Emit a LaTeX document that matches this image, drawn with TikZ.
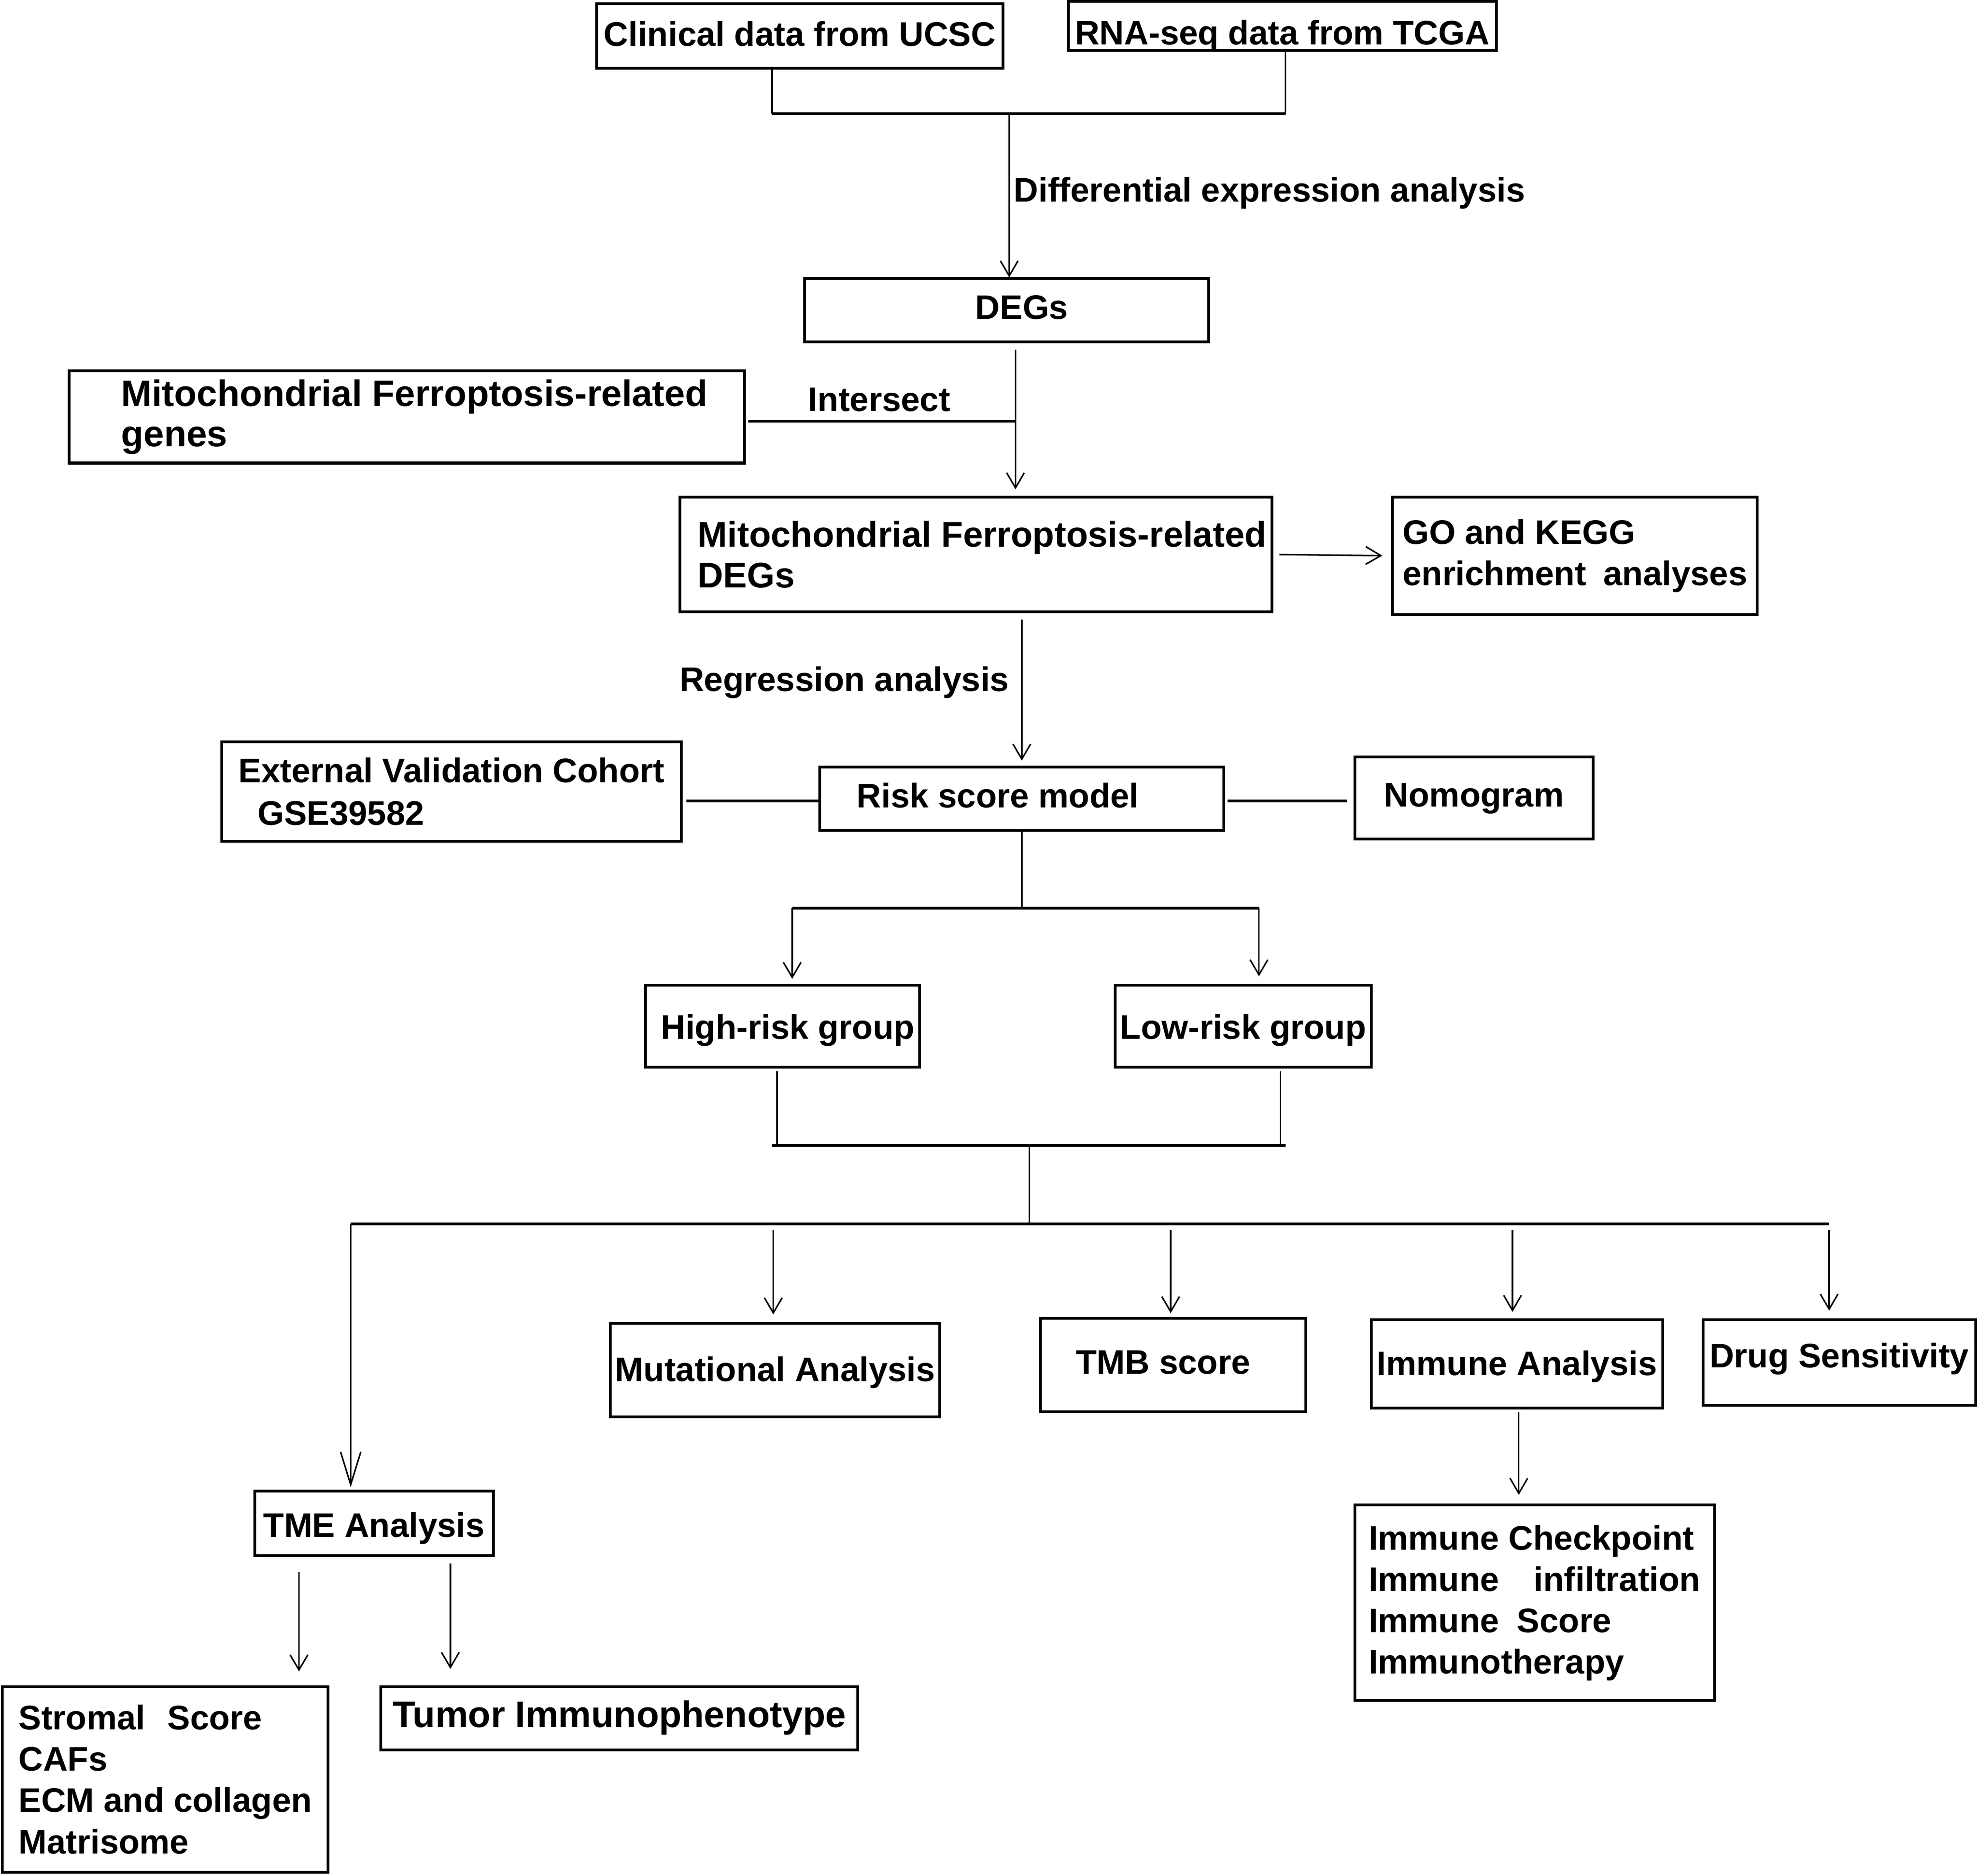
\documentclass[tikz,border=0pt]{standalone}
\usepackage{fontspec}
\setmainfont{Liberation Sans}
\usetikzlibrary{arrows.meta}
\begin{document}
\begin{tikzpicture}[x=0.01cm,y=-0.01cm,
  font=\fontsize{7.68pt}{9.3pt}\selectfont\bfseries,
  bx/.style={draw, line width=0.62pt, inner sep=0pt, text height=0.195cm, text depth=0.055cm},
  mbx/.style={draw, line width=0.62pt, inner sep=0pt, align=left},
  cn/.style={line width=0.34pt},
  tk/.style={line width=0.6pt},
  arr/.style={cn, -{Straight Barb[length=0.12cm,width=0.14cm]}},
  bigarr/.style={cn, -{Straight Barb[length=0.26cm,width=0.16cm]}},
  lbl/.style={inner sep=0pt, anchor=west, text height=0.195cm, text depth=0.055cm}]
\path[use as bounding box, fill=white] (0,0) rectangle (1568,1487);

% boxes
\node[bx, minimum width=3.22cm, minimum height=0.51cm] (clin) at (634,28.5) {\raisebox{-0.01cm}[\height][\depth]{Clinical data from UCSC}};
\node[bx, minimum width=3.39cm, minimum height=0.39cm] (rna) at (1016.5,20.5) {\raisebox{-0.08cm}[\height][\depth]{RNA-seq data from TCGA}};
\node[bx, minimum width=3.20cm, minimum height=0.50cm] (degs) at (798,246) {\kern0.24cm DEGs};
\node[mbx, minimum width=5.35cm, minimum height=0.73cm, font=\fontsize{8.29pt}{9.1pt}\selectfont\bfseries] (mfg) at (322.5,330.5) {\kern0.12cm Mitochondrial Ferroptosis-related\\\kern0.12cm genes};
\node[mbx, minimum width=4.69cm, minimum height=0.91cm, font=\fontsize{8.04pt}{9.2pt}\selectfont\bfseries] (mfd) at (773.5,439.5) {\kern0.1cm Mitochondrial Ferroptosis-related\\\kern0.1cm DEGs};
\node[mbx, minimum width=2.89cm, minimum height=0.93cm] (go) at (1248.5,440.5) {GO and KEGG\\enrichment\hspace{0.06cm} analyses};
\node[bx, minimum width=3.20cm, minimum height=0.50cm] (risk) at (810,633) {Risk score model\kern0.38cm};
\node[mbx, minimum width=3.64cm, minimum height=0.79cm] (ext) at (358,627.5) {\raisebox{-0.02cm}{External Validation Cohort}\\[0.03cm]\hspace{0.15cm}GSE39582};
\node[bx, minimum width=1.89cm, minimum height=0.65cm] (nomo) at (1168.5,632.5) {Nomogram};
\node[bx, minimum width=2.17cm, minimum height=0.65cm] (high) at (620.5,813.5) {\kern0.08cm\raisebox{-0.03cm}[\height][\depth]{High-risk group}};
\node[bx, minimum width=2.03cm, minimum height=0.65cm] (low) at (985.5,813.5) {\raisebox{-0.03cm}[\height][\depth]{Low-risk group}};
\node[bx, minimum width=2.61cm, minimum height=0.74cm] (mut) at (614.5,1086) {\raisebox{-0.02cm}[\height][\depth]{Mutational Analysis}};
\node[bx, minimum width=2.10cm, minimum height=0.74cm] (tmb) at (930,1082) {TMB score\kern0.16cm};
\node[bx, minimum width=2.31cm, minimum height=0.70cm] (imm) at (1202.5,1081) {\raisebox{-0.02cm}[\height][\depth]{Immune Analysis}};
\node[bx, minimum width=2.16cm, minimum height=0.68cm] (drug) at (1458,1080) {\raisebox{0.03cm}[\height][\depth]{Drug Sensitivity}};
\node[bx, minimum width=1.89cm, minimum height=0.51cm] (tme) at (296.5,1207.5) {\raisebox{-0.04cm}[\height][\depth]{TME Analysis}};
\node[mbx, minimum width=2.58cm, minimum height=1.47cm] (strom) at (131,1410.5) {Stromal\hspace{0.1cm} Score\\CAFs\\ECM and collagen\\Matrisome};
\node[bx, minimum width=3.78cm, minimum height=0.50cm, font=\fontsize{8.33pt}{9.3pt}\selectfont\bfseries] (tumor) at (491,1362) {Tumor Immunophenotype};
\node[mbx, minimum width=2.85cm, minimum height=1.55cm] (immc) at (1216.5,1270.5) {Immune Checkpoint\\Immune\hspace{0.2cm} infiltration\\Immune\hspace{0.065cm} Score\\Immunotherapy};

% labels
\node[lbl] (dea) at (803,153) {Differential expression analysis};
\node[lbl] (isect) at (640,319) {Intersect};
\node[lbl] (reg) at (538,541) {Regression analysis};

% junction coordinates
\coordinate (b1l) at (612,90);
\coordinate (b1r) at (1019,90);
\coordinate (b1m) at (800,90);
\coordinate (ix) at (805,334);
\coordinate (g1) at (628,720);
\coordinate (g2) at (998,720);
\coordinate (b2l) at (616,908);
\coordinate (b2r) at (1015,908);
\coordinate (b2m) at (816,908);
\coordinate (b3m) at (816,970);
\coordinate (b3l) at (278,970);
\coordinate (b3r) at (1450,970);
\coordinate (c1) at (613,970);
\coordinate (c2) at (928,970);
\coordinate (c3) at (1199,970);
\coordinate (t1) at (237,0);
\coordinate (t2) at (357,0);
\coordinate (ia) at (1204,0);
\coordinate (ry) at (0,635);

% connectors
\draw[cn] (clin.south -| b1l) -- (b1l);
\draw[cn] (rna.south -| b1r) -- (b1r);
\draw[tk] (b1l) -- (b1r);
\draw[arr] (b1m) -- (degs.north -| b1m);
\draw[arr, shorten <=0.05cm, shorten >=0.05cm] (degs.south -| ix) -- (mfd.north -| ix);
\draw[tk, shorten <=0.02cm] (mfg.east |- ix) -- (ix);
\draw[arr, shorten <=0.05cm, shorten >=0.07cm] (mfd.east) -- (go.west);
\draw[arr, shorten <=0.05cm, shorten >=0.04cm] (mfd.south -| risk.north) -- (risk.north);
\draw[tk, shorten <=0.03cm] (ext.east |- ry) -- (risk.west |- ry);
\draw[tk, shorten <=0.02cm, shorten >=0.05cm] (risk.east |- ry) -- (nomo.west |- ry);
\draw[cn] (risk.south) -- (risk.south |- g1);
\draw[tk] (g1) -- (g2);
\draw[arr, shorten >=0.04cm] (g1) -- (high.north -| g1);
\draw[arr, shorten >=0.06cm] (g2) -- (low.north -| g2);
\draw[cn, shorten <=0.02cm] (high.south -| b2l) -- (b2l);
\draw[cn, shorten <=0.02cm] (low.south -| b2r) -- (b2r);
\draw[tk] ([xshift=-0.04cm]b2l) -- ([xshift=0.04cm]b2r);
\draw[cn] (b2m) -- (b3m);
\draw[tk] (b3l) -- (b3r);
\draw[bigarr, shorten >=0.02cm] (b3l) -- (tme.north -| b3l);
\draw[arr, shorten <=0.05cm, shorten >=0.06cm] (c1) -- (mut.north -| c1);
\draw[arr, shorten <=0.05cm, shorten >=0.03cm] (c2) -- (tmb.north -| c2);
\draw[arr, shorten <=0.05cm, shorten >=0.05cm] (c3) -- (imm.north -| c3);
\draw[arr, shorten <=0.05cm, shorten >=0.06cm] (b3r) -- (drug.north -| b3r);
\draw[arr, shorten <=0.02cm, shorten >=0.07cm] (imm.south -| ia) -- (immc.north -| ia);
\draw[arr, shorten <=0.12cm, shorten >=0.11cm] (tme.south -| t1) -- (strom.north -| t1);
\draw[arr, shorten <=0.05cm, shorten >=0.13cm] (tme.south -| t2) -- (tumor.north -| t2);
\end{tikzpicture}
\end{document}
